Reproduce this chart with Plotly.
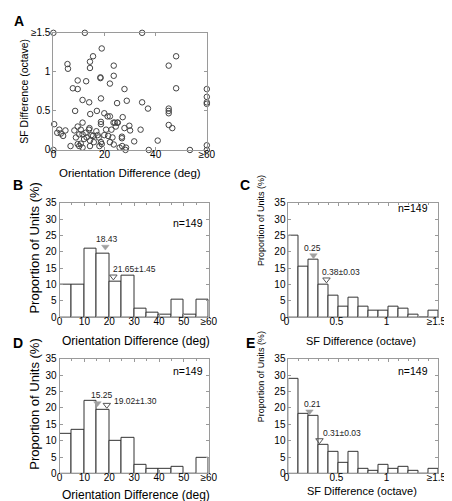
import plotly.graph_objects as go

W, H = 452, 501
def px(x): return x / W
def py(y): return 1 - y / H

# ---------------- Panel A data (orientation diff vs SF diff) ----------------
ori_diff = [0, 12.3, 34.7, 5.5, 5.7, 18.9, 15.5, 14.3, 14.3, 12.8, 9.5, 9.5, 7.6,
            18.4, 18.4, 22.1, 23.6, 23.6, 27.8, 11.4, 14.0, 18.6, 24.9, 28.7,
            8.5, 17.0, 19.9, 14.4, 21.2, 22.1, 18.6, 18.6, 23.5, 24.0, 25.0, 27.1,
            34.7, 37.0, 0.3, 2.3, 2.9, 3.8, 4.7, 1.5, 8.2, 9.5, 10.1, 10.7, 11.4,
            11.4, 8.8, 6.7, 9.5, 10.1, 10.7, 11.4, 12.0, 12.6, 13.0, 13.9, 14.1,
            14.3, 14.3, 14.9, 15.5, 15.8, 16.8, 17.3, 17.7, 18.6, 18.9, 18.0, 19.9,
            20.6, 21.4, 22.1, 22.7, 23.1, 23.6, 24.4, 25.2, 25.9, 26.8, 26.8, 26.9,
            27.8, 28.4, 28.2, 29.7, 30.0, 31.6, 34.1, 37.3, 40.8, 53.4, 45.1, 45.1,
            45.1, 45.1, 46.5, 45.1, 48.0, 48.0, 60, 60, 60, 60, 60, 60, 0]
sf_diff = [1.5, 1.5, 1.5, 1.10, 1.04, 1.30, 1.20, 1.13, 1.05, 0.88, 0.89, 0.78, 0.79,
           0.93, 0.92, 0.85, 1.08, 0.95, 0.78, 0.64, 0.61, 0.66, 0.60, 0.63,
           0.50, 0.50, 0.47, 0.46, 0.43, 0.43, 0.36, 0.33, 0.35, 0.35, 0.35, 0.42,
           0.61, 0.53, 0.33, 0.26, 0.21, 0.18, 0.25, 0.22, 0.25, 0.30, 0.20, 0.26, 0.35,
           0.20, 0.16, 0.05, 0.075, 0.05, 0.08, 0.03, 0.14, 0.22, 0.16, 0.26, 0.28,
           0.12, 0.05, 0.19, 0.18, 0.10, 0.24, 0.19, 0.16, 0.10, 0.075, 0.05, 0.19,
           0.26, 0.18, 0.10, 0.26, 0.16, 0.07, 0.30, 0.35, 0.03, 0.17, 0.15, 0.05,
           0.28, 0.03, 0.0, 0.31, 0.25, 0.11, 0.26, 0.0, 0.12, 0.0, 0.50, 0.53,
           0.47, 0.32, 0.28, 1.08, 1.20, 0.79, 0.78, 0.68, 0.61, 0.59, 0.06, 0.0, 0.0]

# ---------------- Histogram data (percent of 149 units) ----------------
ori_bin_centers = [2.5, 7.5, 12.5, 17.5, 22.5, 27.5, 32.5, 37.5, 42.5, 47.5, 52.5, 57.5]
B_prop = [10.07, 10.07, 20.81, 19.46, 10.74, 12.75, 2.68, 1.34, 0.67, 5.37, 0.67, 5.37]
D_prop = [12.08, 13.42, 22.15, 19.46, 10.07, 10.74, 2.68, 1.34, 1.34, 2.01, 0.0, 4.70]
sf_bin_centers = [0.05, 0.15, 0.25, 0.35, 0.45, 0.55, 0.65, 0.75, 0.85, 0.95,
                  1.05, 1.15, 1.25, 1.35, 1.45]
C_prop = [24.83, 15.44, 17.45, 10.07, 6.71, 3.36, 6.04, 3.36, 2.01, 2.01,
          3.36, 2.68, 0.67, 0.0, 2.01]
E_prop = [28.86, 18.12, 17.45, 8.72, 6.71, 3.36, 6.71, 1.34, 0.67, 2.68,
          1.34, 2.01, 0.67, 0.0, 1.34]

# median / mean markers: (x, y-position of marker, label, label x, label y)
B_median = (18.43, 21.5, "18.43", 18.9, 23.8)
B_mean = (21.65, 12.4, "21.65±1.45", 20.9, 14.6)
C_median = (0.25, 18.9, "0.25", 0.24, 21.1)
C_mean = (0.38, 11.5, "0.38±0.03", 0.32, 13.8)
D_median = (15.25, 21.4, "15.25", 16.9, 24.0)
D_mean = (19.02, 20.9, "19.02±1.30", 21.2, 22.1)
E_median = (0.21, 18.9, "0.21", 0.24, 21.1)
E_mean = (0.31, 10.1, "0.31±0.03", 0.33, 12.4)

ori_ticks = [0, 10, 20, 30, 40, 50, 60]
ori_ticktext = ["0", "10", "20", "30", "40", "50", "≥60"]
sf_ticks = [0, 0.5, 1, 1.5]
sf_ticktext = ["0", "0.5", "1", "≥1.5"]
prop_ticks = [0, 5, 10, 15, 20, 25, 30, 35]
prop_ticktext = ["0", "5", "10", "15", "20", "25", "30", "35"]

FONT = "Liberation Sans, Arial, Helvetica, sans-serif"
FRAME = "#9a9a9a"
BAR_LINE = "#333333"

fig = go.Figure()

# Panel A scatter
fig.add_trace(go.Scatter(
    x=ori_diff, y=sf_diff, mode="markers", xaxis="x", yaxis="y",
    marker=dict(symbol="circle-open", size=5.5, color="#444444", line=dict(width=1)),
    cliponaxis=False, showlegend=False, hoverinfo="skip"))

panels = [
    ("x2", "y2", ori_bin_centers, B_prop, 5, B_median, B_mean),
    ("x3", "y3", sf_bin_centers, C_prop, 0.1, C_median, C_mean),
    ("x4", "y4", ori_bin_centers, D_prop, 5, D_median, D_mean),
    ("x5", "y5", sf_bin_centers, E_prop, 0.1, E_median, E_mean),
]
annotations = []
for xa, ya, centers, vals, w, med, mean in panels:
    fig.add_trace(go.Bar(
        x=centers, y=vals, width=w, xaxis=xa, yaxis=ya,
        marker=dict(color="white", line=dict(color=BAR_LINE, width=1)),
        showlegend=False, hoverinfo="skip"))
    fig.add_trace(go.Scatter(
        x=[med[0]], y=[med[1]], mode="markers", xaxis=xa, yaxis=ya,
        marker=dict(symbol="triangle-down", size=6.5, color="#a0a0a0",
                    line=dict(color="#a0a0a0", width=0.5)),
        cliponaxis=False, showlegend=False, hoverinfo="skip"))
    fig.add_trace(go.Scatter(
        x=[mean[0]], y=[mean[1]], mode="markers", xaxis=xa, yaxis=ya,
        marker=dict(symbol="triangle-down-open", size=6.5, color="#555555",
                    line=dict(width=1)),
        cliponaxis=False, showlegend=False, hoverinfo="skip"))
    annotations.append(dict(x=med[3], y=med[4], xref=xa, yref=ya, text=med[2],
                            showarrow=False, xanchor="center", yanchor="middle",
                            font=dict(size=8.5, color="#222")))
    annotations.append(dict(x=mean[3], y=mean[4], xref=xa, yref=ya, text=mean[2],
                            showarrow=False, xanchor="left", yanchor="middle",
                            font=dict(size=8.5, color="#222")))

def axis(dom, rng, tickvals, ticktext, anchor, minor=None, standoff=None,
         ticks="inside", ticklen=3, shift=None):
    d = dict(domain=dom, range=rng, tickmode="array", tickvals=tickvals,
             ticktext=ticktext,
             showline=True, linecolor=FRAME, linewidth=1, mirror="ticks",
             ticks=ticks, ticklen=ticklen, tickcolor=FRAME, showgrid=False,
             zeroline=False, tickfont=dict(size=10, color="black", family=FONT),
             anchor=anchor, fixedrange=False)
    if standoff is not None:
        d["ticklabelstandoff"] = standoff
        d["ticklabeloverflow"] = "allow"
    if shift is not None:
        d["ticklabelshift"] = shift
    if minor is not None:
        d["minor"] = minor
    return d

def xminor(step):
    return dict(dtick=step, ticks="inside", ticklen=2, tickcolor=FRAME)

# left-column y axes: labels via zero-length outside ticks, tick marks drawn as
# inside minor ticks at the same (5 %) spacing
left_y_minor = dict(tick0=0.01, dtick=5, ticks="inside", ticklen=3, tickcolor=FRAME)

xa_dom = [px(41.7), px(200)]
left_dom = [px(48), px(202)]
right_dom = [px(284.3), px(439)]
ya_dom = [py(139.3), py(19.3)]
mid_dom = [py(310.7), py(193.3)]
bot_dom = [py(470.7), py(353.3)]

XS = -5
layout = dict(
    width=W, height=H, margin=dict(l=0, r=0, t=0, b=0),
    paper_bgcolor="white", plot_bgcolor="white",
    font=dict(family=FONT, color="black"), bargap=0, dragmode=False,
    xaxis=axis(xa_dom, [0, 60], [0, 20, 40, 60], ["0", "20", "40", "≥60"], "y", None, XS),
    yaxis=axis(ya_dom, [0, 1.5], sf_ticks, sf_ticktext, "x"),
    xaxis2=axis(left_dom, [0, 60], ori_ticks, ori_ticktext, "y2", xminor(5), XS),
    yaxis2=axis(mid_dom, [0, 35], prop_ticks, prop_ticktext, "x2", left_y_minor,
                ticks="outside", ticklen=0),
    xaxis3=axis(right_dom, [0, 1.5], sf_ticks, sf_ticktext, "y3", xminor(0.1), XS, shift=-2),
    yaxis3=axis(mid_dom, [0, 35], prop_ticks, prop_ticktext, "x3"),
    xaxis4=axis(left_dom, [0, 60], ori_ticks, ori_ticktext, "y4", xminor(5), XS),
    yaxis4=axis(bot_dom, [0, 35], prop_ticks, prop_ticktext, "x4", left_y_minor,
                ticks="outside", ticklen=0),
    xaxis5=axis(right_dom, [0, 1.5], sf_ticks, sf_ticktext, "y5", xminor(0.1), XS, shift=-2),
    yaxis5=axis(bot_dom, [0, 35], prop_ticks, prop_ticktext, "x5"),
)

# n=149 labels
for xa, ya, xv, yv in [("x2", "y2", 58.5, 28.7), ("x3", "y3", 1.42, 33.5),
                       ("x4", "y4", 58.5, 31.2), ("x5", "y5", 1.42, 31.2)]:
    annotations.append(dict(x=xv, y=yv, xref=xa, yref=ya, text="n=149", showarrow=False,
                            xanchor="right", yanchor="middle", font=dict(size=10.5)))

def paper_text(text, x, y, size, angle=0, bold=False):
    return dict(x=px(x), y=py(y), xref="paper", yref="paper",
                text=("<b>%s</b>" % text) if bold else text, showarrow=False,
                xanchor="center", yanchor="middle", textangle=angle,
                font=dict(size=size, color="black", family=FONT))

annotations += [
    paper_text("A", 6, 7, 14, bold=True),
    paper_text("B", 5, 175, 14, bold=True),
    paper_text("C", 239, 175, 14, bold=True),
    paper_text("D", 5, 337, 14, bold=True),
    paper_text("E", 245, 337, 14, bold=True),
    paper_text("SF Difference (octave)", 11, 79, 10.5, -90),
    paper_text("Orientation Difference (deg)", 121, 163, 11.5),
    paper_text("Proportion of Units (%)", 22, 239, 13, -90),
    paper_text("Orientation Difference (deg)", 127, 335, 12),
    paper_text("Proportion of Units (%)", 256, 212, 9, -90),
    paper_text("SF Difference (octave)", 359, 335, 11),
    paper_text("Proportion of Units (%)", 22, 399, 13, -90),
    paper_text("Orientation Difference (deg)", 127, 493, 12),
    paper_text("Proportion of Units (%)", 256, 372, 9, -90),
    paper_text("SF Difference (octave)", 360, 489, 11),
]
layout["annotations"] = annotations
fig.update_layout(**layout)
fig.write_html("out.html")
